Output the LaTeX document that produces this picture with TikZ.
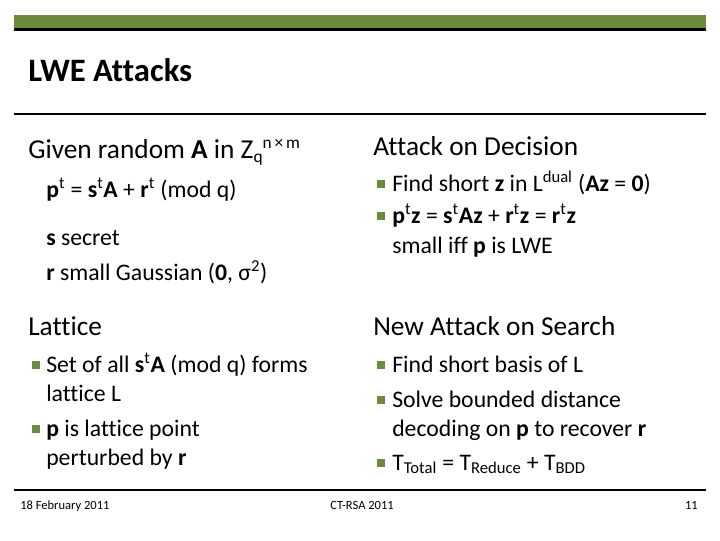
\documentclass[tikz,border=0pt]{standalone}
\usepackage{fontspec}
\setmainfont[Ligatures=NoCommon]{Carlito}
\definecolor{slidegreen}{RGB}{110,139,61}

\tikzset{
  head/.style={anchor=base west, inner sep=0pt, font=\fontsize{20.5}{24}\selectfont},
  txt/.style={anchor=base west, inner sep=0pt, font=\fontsize{17.8}{21}\selectfont},
  foot/.style={anchor=base, inner sep=0pt, font=\fontsize{9.4}{10}\selectfont},
  bul/.style={fill=slidegreen, minimum size=6pt, inner sep=0pt}
}
\newcommand{\sups}[1]{\textsuperscript{#1}}

\begin{document}
\begin{tikzpicture}[x=0.75pt, y=-0.75pt]
% page
\useasboundingbox (0,0) rectangle (720,540);
% title bar
\fill[slidegreen] (14,15) rectangle (706,28);
\fill[black] (14,28) rectangle (706,31);
\node[anchor=base west, inner sep=0pt, font=\fontsize{24.5}{28}\selectfont\bfseries] (title) at (28,81) {LWE Attacks};
\draw[line width=0.8pt] (14,114) -- (706,114);
\draw[line width=0.8pt] (14,490) -- (706,490);

% left column
\node[head] (given) at (28,158) {Given random \textbf{A} in Z\raisebox{-0.35ex}{\fontsize{13}{13}\selectfont q}\raisebox{0.75ex}{\fontsize{13}{13}\selectfont n\,×\,m}};
\node[txt] (lwe) at (46,197) {\textbf{p}\sups{t} = \textbf{s}\sups{t}\textbf{A} + \textbf{r}\sups{t} (mod q)};
\node[txt] (sec) at (46,245) {\textbf{s} secret};
\node[txt] (err) at (46,280) {\textbf{r} small Gaussian (\textbf{0}, σ\sups{2})};

\node[head] (lat) at (28,335) {Lattice};
\node[bul] (b1) at (36,365) {};
\node[txt] (l1) at (46,372) {Set of all \textbf{s}\sups{t}\textbf{A} (mod q) forms};
\node[txt] (l2) at (46,401) {lattice L};
\node[bul] (b2) at (36,429) {};
\node[txt] (l3) at (46,436) {\textbf{p} is lattice point};
\node[txt] (l4) at (46,465) {perturbed by \textbf{r}};

% right column
\node[head] (dec) at (373,155) {Attack on Decision};
\node[bul] (b3) at (381,184) {};
\node[txt] (d1) at (392,191) {Find short \textbf{z} in L\sups{dual} (\textbf{Az} = \textbf{0})};
\node[bul] (b4) at (381,216) {};
\node[txt] (d2) at (392,223) {\textbf{p}\sups{t}\textbf{z} = \textbf{s}\sups{t}\textbf{Az} + \textbf{r}\sups{t}\textbf{z} = \textbf{r}\sups{t}\textbf{z}};
\node[txt] (d3) at (392,253) {small iff \textbf{p} is LWE};

\node[head] (srch) at (373,335) {New Attack on Search};
\node[bul] (b5) at (381,365) {};
\node[txt] (s1) at (392,372) {Find short basis of L};
\node[bul] (b6) at (381,400) {};
\node[txt] (s2) at (392,407) {Solve bounded distance};
\node[txt] (s3) at (392,436) {decoding on \textbf{p} to recover \textbf{r}};
\node[bul] (b7) at (381,463) {};
\node[txt] (s4) at (392,470) {T\textsubscript{Total} = T\textsubscript{Reduce} + T\textsubscript{BDD}};

% footer
\node[foot, anchor=base west] (date) at (20,509) {18 February 2011};
\node[foot, anchor=base west] (conf) at (330,509) {CT-RSA 2011};
\node[foot, anchor=base east] (page) at (698,509) {11};
\end{tikzpicture}
\end{document}
